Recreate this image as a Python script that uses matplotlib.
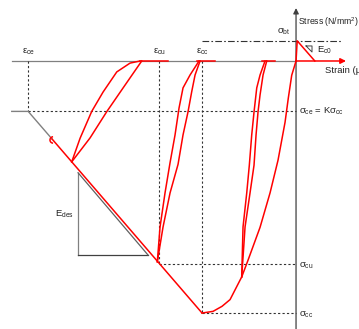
import matplotlib
matplotlib.use('Agg')
import matplotlib.pyplot as plt
from matplotlib.patches import Arc
import numpy as np

plt.rcParams['font.family'] = ['Liberation Sans', 'DejaVu Sans']
plt.rcParams['mathtext.default'] = 'regular'

# characteristic points (strain in micro-strain, stress in N/mm2)
eps_cc, sig_cc = -2000, -30.0
eps_cu, sig_cu = -2915, -24.2
eps_ce, sig_ce = -5700, -6.0
eps_bt_peak, sig_bt = 25, 2.4
eps_t_end = 400

# envelope: ascending branch from the peak back to the origin
env_eps = [-2000, -1766, -1575, -1404, -1156, -1021, -766, -553, -383, -234, -164, -92, 0]
env_sig = [-30.0, -29.8, -29.2, -28.4, -25.7, -23.7, -19.8, -15.7, -11.8, -7.3, -4.4, -1.7, 0.0]

# descending (softening) branch, red part and grey continuation
soft_eps = [-2000, -5190]
soft_sig = [-30.0, -9.3]
grey_eps = [-5190, -5700, -6050]
grey_sig = [-9.3, -6.0, -6.0]

# unloading / reloading loops
loop1_unl_eps = [-4773, -4596, -4348, -4107, -3815, -3532, -3320]
loop1_unl_sig = [-12.0, -9.2, -6.0, -3.7, -1.3, -0.25, 0.0]
loop1_rel_eps = [-4773, -4384, -4028, -3681, -3284]
loop1_rel_sig = [-12.0, -9.16, -6.03, -3.21, 0.0]
loop1_res = [-3320, -2724]

loop2_unl_eps = [-2952, -2894, -2788, -2681, -2575, -2490, -2405, -2256, -2064]
loop2_unl_sig = [-23.9, -19.75, -15.7, -12.1, -8.8, -5.6, -3.2, -1.67, 0.0]
loop2_rel_eps = [-2952, -2830, -2681, -2511, -2405, -2298, -2220, -2149, -2043]
loop2_rel_sig = [-23.9, -19.75, -15.7, -12.3, -8.8, -6.03, -3.65, -1.67, 0.0]
loop2_res = [-2113, -1724]

loop3_unl_eps = [-1156, -1128, -1049, -994, -943, -894, -836, -766, -660]
loop3_unl_sig = [-25.7, -19.75, -15.7, -12.4, -8.8, -6.07, -3.2, -1.67, 0.0]
loop3_rel_eps = [-1156, -1085, -979, -894, -851, -809, -766, -702, -624]
loop3_rel_sig = [-25.7, -19.75, -15.7, -12.4, -8.8, -6.07, -4.05, -1.67, 0.0]
loop3_res = [-730, -447]

# tension branch
ten_eps = [0, eps_bt_peak, eps_t_end]
ten_sig = [0.0, sig_bt, 0.0]

# slope triangles
edes_eps = [-4639, -4639, -3149, -4639]
edes_sig = [-13.3, -23.1, -23.1, -13.3]
ec0_eps = [213, 340, 340, 213]
ec0_sig = [1.79, 1.79, 1.07, 1.79]

RED = '#ff0000'
DASH = '#333333'
TXT = '#222222'
dash = (0, (2, 2))

fig = plt.figure(figsize=(3.59, 3.29), dpi=100)
ax = fig.add_axes([0, 0, 1, 1])
ax.set_xlim(-6300, 1340)
ax.set_ylim(-31.9, 7.26)
ax.axis('off')

# axes
ax.plot([-6044, 0], [0, 0], color='#808080', lw=0.9, zorder=1)
ax.annotate('', xy=(0, 6.3), xytext=(0, -31.9),
            arrowprops=dict(arrowstyle='-|>', color='#404040', lw=0.9, mutation_scale=8,
                            shrinkA=0, shrinkB=0))
ax.annotate('', xy=(1064, 0), xytext=(0, 0),
            arrowprops=dict(arrowstyle='-|>', color=RED, lw=1.1, mutation_scale=8,
                            shrinkA=0, shrinkB=0), zorder=4)

# reference dashed lines
ax.plot([eps_ce, eps_ce], [0, sig_ce], color=DASH, lw=0.8, ls=dash)
ax.plot([eps_ce, 0], [sig_ce, sig_ce], color=DASH, lw=0.8, ls=dash)
ax.plot([eps_cu, eps_cu], [0, sig_cu], color=DASH, lw=0.8, ls=dash)
ax.plot([eps_cu, 0], [sig_cu, sig_cu], color=DASH, lw=0.8, ls=dash)
ax.plot([eps_cc, eps_cc], [0, sig_cc], color=DASH, lw=0.8, ls=dash)
ax.plot([eps_cc, 0], [sig_cc, sig_cc], color=DASH, lw=0.8, ls=dash)
ax.plot([-2000, 979], [sig_bt, sig_bt], color=DASH, lw=0.8, ls=(0, (6, 2, 1.5, 2)))

# slope triangles
ax.plot(edes_eps[:2], edes_sig[:2], color='#808080', lw=0.9)
ax.plot(edes_eps[1:3], edes_sig[1:3], color='#404040', lw=0.9)
ax.plot(edes_eps[2:], edes_sig[2:], color='#606060', lw=0.9)
ax.plot(ec0_eps, ec0_sig, color='#404040', lw=0.7)

# envelope
ax.plot(grey_eps, grey_sig, color='#808080', lw=1.0, zorder=2)
ax.plot(soft_eps, soft_sig, color=RED, lw=1.1, zorder=3)
ax.plot(env_eps, env_sig, color=RED, lw=1.1, zorder=3)
ax.plot(ten_eps, ten_sig, color=RED, lw=1.1, zorder=3)
ax.add_patch(Arc((-5171, -9.4), 130, 0.75, theta1=40, theta2=320, color=RED, lw=1.1, zorder=3))

# loops
for ue, us, re_, rs, res in [
        (loop1_unl_eps, loop1_unl_sig, loop1_rel_eps, loop1_rel_sig, loop1_res),
        (loop2_unl_eps, loop2_unl_sig, loop2_rel_eps, loop2_rel_sig, loop2_res),
        (loop3_unl_eps, loop3_unl_sig, loop3_rel_eps, loop3_rel_sig, loop3_res)]:
    ax.plot(ue, us, color=RED, lw=1.1, zorder=3)
    ax.plot(re_, rs, color=RED, lw=1.1, zorder=3)
    ax.plot(res, [0, 0], color=RED, lw=1.1, zorder=3)

# labels
fs = 6.8
ax.text(eps_ce, 1.07, r'$ε_{ce}$', ha='center', va='center', fontsize=fs, color=TXT)
ax.text(eps_cu, 1.07, r'$ε_{cu}$', ha='center', va='center', fontsize=fs, color=TXT)
ax.text(eps_cc, 1.07, r'$ε_{cc}$', ha='center', va='center', fontsize=fs, color=TXT)
ax.text(-255, 3.45, r'$σ_{bt}$', ha='center', va='center', fontsize=fs, color=TXT)
ax.text(43, 4.64, r'Stress (N/mm$^2$)', ha='left', va='center', fontsize=6.2, color=TXT)
ax.text(617, -1.19, 'Strain (με)', ha='left', va='center', fontsize=fs, color=TXT)
ax.text(447, 1.31, r'$E_{c0}$', ha='left', va='center', fontsize=fs, color=TXT)
ax.text(64, sig_ce, r'$σ_{ce}$ = K$σ_{cc}$', ha='left', va='center', fontsize=fs, color=TXT)
ax.text(64, sig_cu - 0.2, r'$σ_{cu}$', ha='left', va='center', fontsize=fs, color=TXT)
ax.text(64, sig_cc - 0.2, r'$σ_{cc}$', ha='left', va='center', fontsize=fs, color=TXT)
ax.text(-5128, -18.3, r'$E_{des}$', ha='left', va='center', fontsize=fs, color=TXT)

fig.savefig('out.png', dpi=100, facecolor='white')
